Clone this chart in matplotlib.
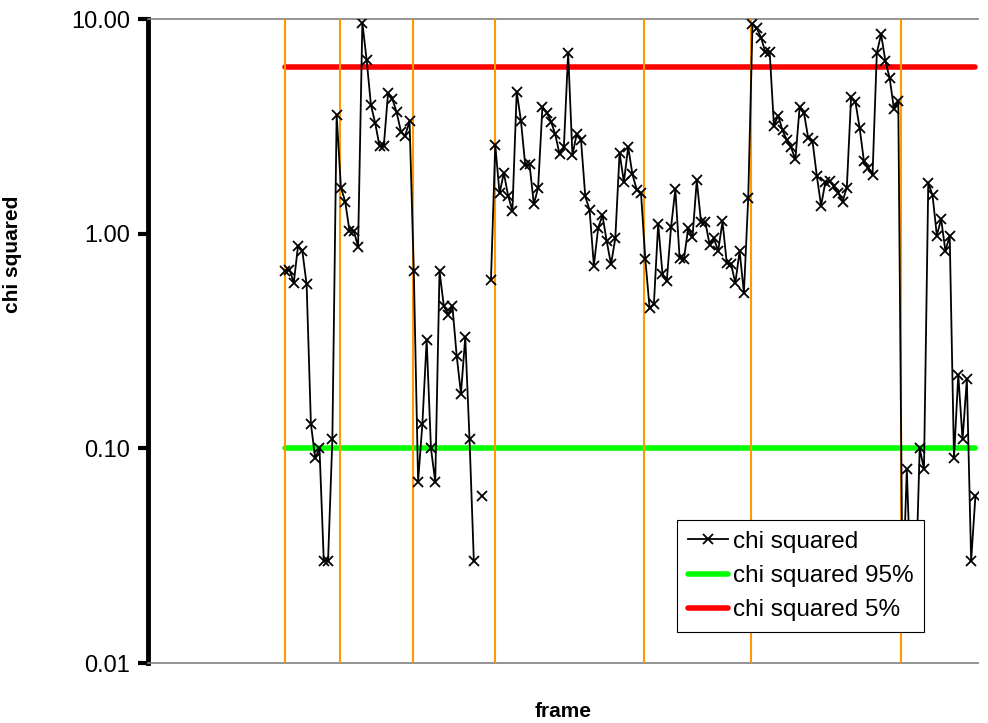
import numpy as np
import matplotlib
matplotlib.use('Agg')
from matplotlib import pyplot as plt
from matplotlib.ticker import FixedLocator, FixedFormatter, NullLocator

plt.rcParams['font.family'] = ['Liberation Sans', 'DejaVu Sans']

# frame numbers of the measured points
frame = np.arange(32, 194)

# chi squared per frame (nan = no value)
chi = [0.67, 0.68, 0.59, 0.88, 0.83, 0.58, 0.13, 0.09, 0.10, 0.03,
       0.03, 0.11, 3.57, 1.64, 1.41, 1.03, 1.03, 0.87, 9.62, 6.44,
       3.98, 3.27, 2.56, 2.56, 4.54, 4.24, 3.67, 2.99, 2.86, 3.36,
       0.67, 0.07, 0.13, 0.32, 0.10, 0.07, 0.67, 0.46, 0.42, 0.46,
       0.27, 0.18, 0.33, 0.11, 0.03, np.nan, 0.06, np.nan, 0.61, 2.59,
       1.54, 1.92, 1.50, 1.28, 4.59, 3.34, 2.08, 2.10, 1.37, 1.64,
       3.90, 3.66, 3.33, 2.90, 2.34, 2.52, 6.95, 2.32, 2.92, 2.73,
       1.49, 1.29, 0.71, 1.06, 1.22, 0.92, 0.72, 0.95, 2.38, 1.74,
       2.53, 1.89, 1.60, 1.54, 0.76, 0.45, 0.47, 1.11, 0.65, 0.60,
       1.07, 1.61, 0.77, 0.76, 1.06, 0.96, 1.77, 1.13, 1.13, 0.89,
       0.95, 0.83, 1.14, 0.73, 0.72, 0.59, 0.83, 0.53, 1.46, 9.45,
       9.05, 8.20, 7.00, 7.05, 3.19, 3.55, 3.03, 2.73, 2.52, 2.22,
       3.90, 3.65, 2.79, 2.70, 1.86, 1.35, 1.74, 1.75, 1.66, 1.55,
       1.41, 1.64, 4.32, 4.12, 3.10, 2.17, 2.02, 1.88, 6.95, 8.50,
       6.37, 5.30, 3.80, 4.17, 0.02, 0.08, 0.02, 0.02, 0.10, 0.08,
       1.72, 1.51, 0.98, 1.17, 0.83, 0.98, 0.09, 0.22, 0.11, 0.21,
       0.03, 0.06]

chi95 = 0.1
chi5 = 6.0

# frames where the orange markers are
marks = [31.9, 44.9, 61.9, 80.9, 115.7, 140.6, 175.6]

yticks = [0.01, 0.1, 1, 10]
ylabels = ['0.01', '0.10', '1.00', '10.00']

fig = plt.figure(figsize=(9.88, 7.23), dpi=100)
ax = fig.add_axes([148 / 988, 1 - 663 / 723, 830 / 988, 644 / 723])

for m in marks:
    ax.axvline(m, color='#FF9900', lw=1.5, zorder=3)

ax.plot(frame, np.full(len(frame), chi95), color='#00FF00', lw=4,
        solid_capstyle='round', label='chi squared 95%', zorder=2)
ax.plot(frame, np.full(len(frame), chi5), color='#FF0000', lw=4,
        solid_capstyle='round', label='chi squared 5%', zorder=2)
ax.plot(frame, chi, color='black', lw=1.3, marker='x', ms=7, mew=1.3,
        label='chi squared', zorder=4)

ax.set_yscale('log')
ax.set_ylim(0.01, 10)
ax.set_xlim(0, 193.6)
ax.yaxis.set_major_locator(FixedLocator(yticks))
ax.yaxis.set_major_formatter(FixedFormatter(ylabels))
ax.yaxis.set_minor_locator(NullLocator())
ax.set_xticks([])
ax.tick_params(axis='y', direction='out', length=7, width=3, labelsize=17, pad=6)

ax.spines['left'].set_linewidth(3.5)
ax.spines['right'].set_visible(False)
ax.spines['top'].set_color('#808080')
ax.spines['bottom'].set_color('#808080')
ax.spines['top'].set_linewidth(1.2)
ax.spines['bottom'].set_linewidth(1.2)

ax.set_ylabel('chi squared', fontsize=15, fontweight='bold')
ax.yaxis.set_label_coords(-0.152, 0.634)
ax.set_xlabel('frame', fontsize=15, fontweight='bold', labelpad=28)

handles, labels = ax.get_legend_handles_labels()
order = [2, 0, 1]
leg = ax.legend([handles[i] for i in order], [labels[i] for i in order],
                loc='upper left', bbox_to_anchor=(0.637, 0.222), borderaxespad=0,
                fontsize=17.5, frameon=True, fancybox=False, shadow=False,
                edgecolor='black', framealpha=1, handlelength=1.65,
                labelspacing=0.5, borderpad=0.45, handletextpad=0.2, numpoints=1)
leg.get_frame().set_linewidth(0.8)

fig.savefig('out.png', dpi=100)
